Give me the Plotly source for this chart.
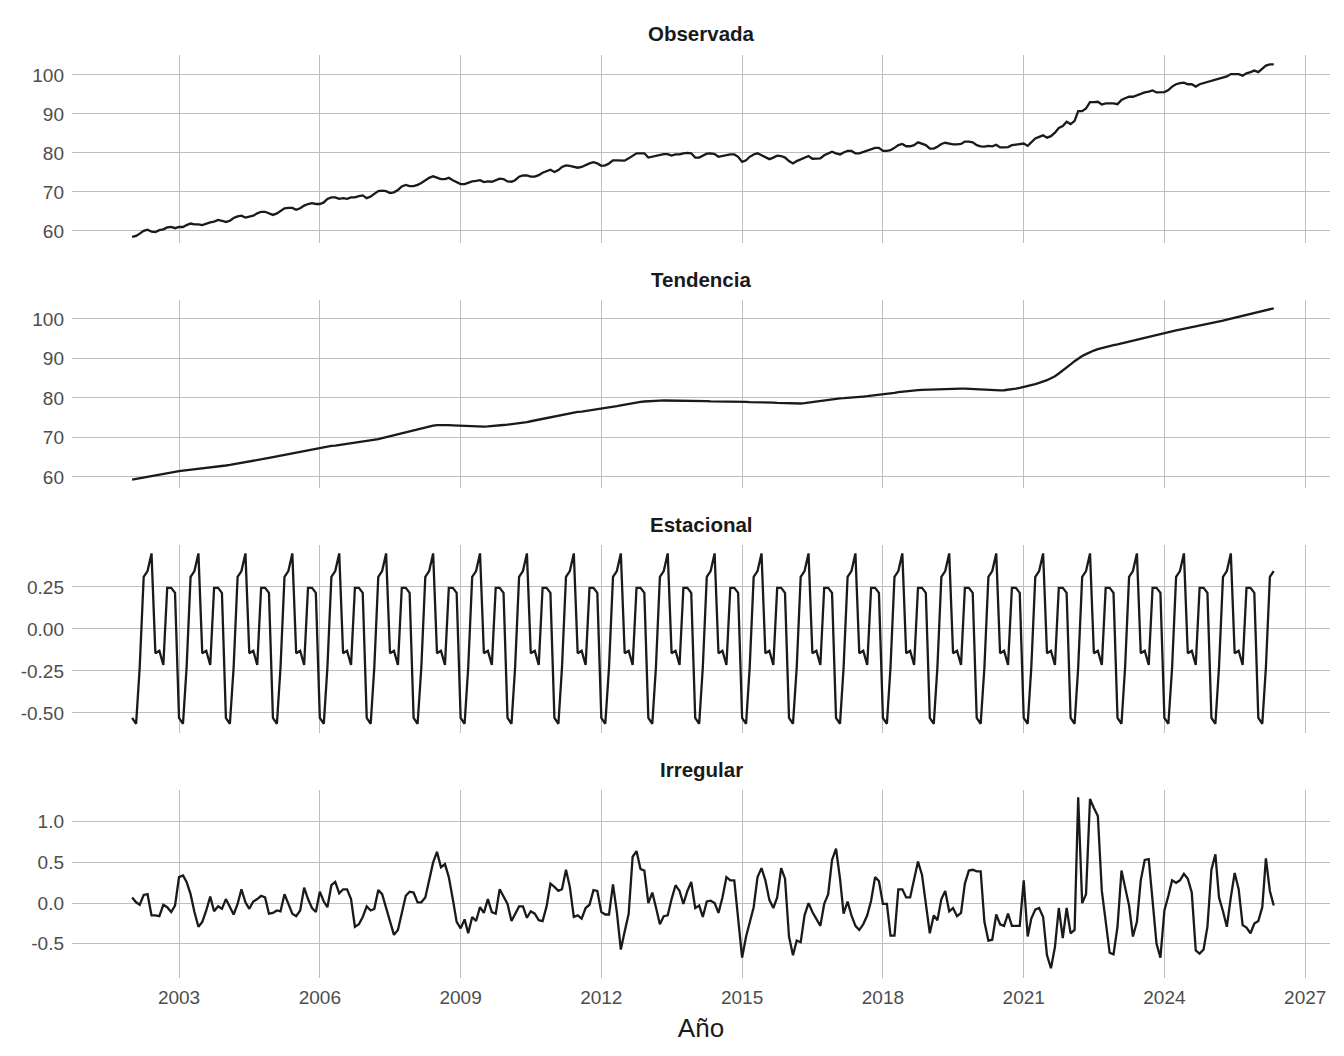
import pandas as pd
import plotly.graph_objects as go

# ---------------- data (monthly, 2002-01 .. 2026-05) ----------------
start_month = "2002-01-01"
n_months = 293

observada = [
    58.45, 58.7, 59.3, 60.0, 60.3, 59.8, 59.7, 60.2, 60.4, 60.9, 61.0, 60.7,
    61.0, 61.0, 61.5, 61.9, 61.7, 61.7, 61.5, 61.9, 62.2, 62.4, 62.8, 62.6,
    62.3, 62.6, 63.3, 63.7, 63.9, 63.4, 63.6, 63.9, 64.5, 64.9, 64.9, 64.5,
    64.1, 64.5, 65.2, 65.8, 65.9, 65.9, 65.4, 65.8, 66.5, 66.9, 67.1, 66.9,
    66.9, 67.3, 68.2, 68.6, 68.6, 68.2, 68.4, 68.2, 68.6, 68.6, 68.9, 69.1,
    68.4, 68.8, 69.5, 70.2, 70.3, 70.2, 69.7, 69.9, 70.5, 71.4, 71.8, 71.5,
    71.5, 71.8, 72.3, 73.0, 73.6, 74.0, 73.7, 73.3, 73.3, 73.6, 73.0, 72.4,
    72.0, 72.0, 72.3, 72.7, 72.8, 73.0, 72.5, 72.7, 72.6, 73.0, 73.4, 73.3,
    72.7, 72.6, 73.0, 73.9, 74.2, 74.2, 73.9, 73.9, 74.3, 74.9, 75.3, 75.7,
    75.1, 75.6, 76.4, 76.8, 76.7, 76.4, 76.2, 76.4, 76.9, 77.3, 77.6, 77.3,
    76.7, 76.8, 77.3, 78.1, 78.1, 78.0, 78.0, 78.6, 79.3, 79.9, 79.9, 79.9,
    78.8, 79.0, 79.2, 79.4, 79.7, 79.7, 79.3, 79.6, 79.6, 79.9, 80.0, 79.9,
    78.8, 78.8, 79.2, 79.8, 79.9, 79.7, 79.0, 79.2, 79.3, 79.6, 79.6, 79.0,
    77.7, 78.1, 79.0, 79.6, 79.9, 79.4, 78.8, 78.4, 78.8, 79.3, 79.2, 78.8,
    77.9, 77.3, 77.9, 78.3, 78.7, 79.2, 78.5, 78.6, 78.6, 79.4, 79.9, 80.3,
    79.9, 79.6, 80.1, 80.5, 80.5, 79.9, 79.9, 80.3, 80.5, 81.0, 81.3, 81.3,
    80.5, 80.5, 80.7, 81.3, 82.0, 82.3, 81.7, 81.7, 82.0, 82.7, 82.4, 82.0,
    81.1, 81.1, 81.6, 82.3, 82.6, 82.4, 82.2, 82.2, 82.3, 82.9, 82.9, 82.7,
    82.0, 81.7, 81.6, 81.8, 81.7, 82.1, 81.4, 81.4, 81.5, 82.0, 82.1, 82.2,
    82.4, 81.8, 82.8, 83.7, 84.1, 84.5, 83.9, 84.3, 85.2, 86.4, 86.9, 88.0,
    87.4, 88.2, 90.7, 90.7, 91.4, 93.0, 93.0, 93.1, 92.4, 92.7, 92.7, 92.7,
    92.5, 93.6, 94.0, 94.4, 94.4, 94.8, 95.1, 95.5, 95.7, 96.0, 95.5, 95.5,
    95.6, 96.1, 97.0, 97.6, 97.9, 98.0, 97.6, 97.6, 97.0, 97.6, 97.9, 98.3,
    98.5, 98.7, 99.0, 99.4, 99.6, 100.2, 100.2, 100.2, 99.8, 100.4, 100.7, 101.1,
    100.7, 101.5, 102.4, 102.7, 102.7,
]

tendencia = [
    59.3, 59.5, 59.7, 59.85, 60.05, 60.2, 60.4, 60.6, 60.8, 60.95, 61.15, 61.3,
    61.5, 61.6, 61.7, 61.8, 61.9, 62.0, 62.1, 62.2, 62.35, 62.45, 62.6, 62.7,
    62.9, 63.05, 63.2, 63.4, 63.6, 63.75, 63.95, 64.1, 64.3, 64.45, 64.65, 64.8,
    65.0, 65.2, 65.4, 65.6, 65.8, 66.0, 66.2, 66.4, 66.6, 66.8, 67.0, 67.2,
    67.4, 67.55, 67.7, 67.85, 67.95, 68.1, 68.2, 68.35, 68.5, 68.6, 68.75, 68.9,
    69.05, 69.2, 69.4, 69.6, 69.85, 70.1, 70.35, 70.6, 70.85, 71.1, 71.35, 71.6,
    71.85, 72.1, 72.4, 72.65, 72.85, 73.0, 73.1, 73.15, 73.15, 73.1, 73.05, 73.0,
    72.9, 72.85, 72.8, 72.75, 72.7, 72.7, 72.75, 72.8, 72.85, 72.95, 73.05, 73.15,
    73.25, 73.35, 73.45, 73.6, 73.75, 73.9, 74.1, 74.3, 74.5, 74.7, 74.9, 75.1,
    75.35, 75.55, 75.8, 76.0, 76.15, 76.3, 76.45, 76.55, 76.7, 76.8, 76.95, 77.05,
    77.2, 77.35, 77.55, 77.75, 77.95, 78.15, 78.35, 78.55, 78.7, 78.85, 79.0, 79.1,
    79.2, 79.25, 79.3, 79.3, 79.35, 79.35, 79.35, 79.35, 79.35, 79.35, 79.3, 79.3,
    79.3, 79.25, 79.2, 79.2, 79.15, 79.15, 79.1, 79.1, 79.05, 79.05, 79.0, 79.0,
    79.0, 79.0, 78.95, 78.95, 78.95, 78.9, 78.9, 78.85, 78.8, 78.75, 78.7, 78.65,
    78.6, 78.55, 78.55, 78.6, 78.7, 78.85, 79.0, 79.15, 79.3, 79.45, 79.6, 79.7,
    79.8, 79.9, 79.95, 80.0, 80.1, 80.15, 80.25, 80.35, 80.45, 80.55, 80.65, 80.75,
    80.85, 81.0, 81.15, 81.3, 81.45, 81.6, 81.7, 81.8, 81.9, 82.0, 82.05, 82.1,
    82.1, 82.15, 82.2, 82.2, 82.25, 82.3, 82.3, 82.35, 82.35, 82.35, 82.3, 82.25,
    82.2, 82.1, 82.0, 81.95, 81.9, 81.9, 81.9, 81.95, 82.05, 82.2, 82.35, 82.55,
    82.75, 83.0, 83.25, 83.5, 83.8, 84.1, 84.5, 85.0, 85.5, 86.2, 86.9, 87.7,
    88.5, 89.3, 90.0, 90.6, 91.1, 91.6, 92.0, 92.35, 92.65, 92.9, 93.15, 93.35,
    93.55, 93.8, 94.05, 94.3, 94.55, 94.8, 95.05, 95.3, 95.55, 95.8, 96.05, 96.3,
    96.5, 96.7, 96.9, 97.1, 97.3, 97.5, 97.7, 97.9, 98.1, 98.3, 98.5, 98.7,
    98.9, 99.15, 99.4, 99.6, 99.85, 100.1, 100.3, 100.55, 100.8, 101.05, 101.3, 101.5,
    101.75, 102.0, 102.25, 102.5, 102.7,
]

estacional = [
    -0.53, -0.565, -0.23, 0.31, 0.345, 0.45, -0.145, -0.13, -0.215, 0.245, 0.245, 0.215,
    -0.53, -0.565, -0.23, 0.31, 0.345, 0.45, -0.145, -0.13, -0.215, 0.245, 0.245, 0.215,
    -0.53, -0.565, -0.23, 0.31, 0.345, 0.45, -0.145, -0.13, -0.215, 0.245, 0.245, 0.215,
    -0.53, -0.565, -0.23, 0.31, 0.345, 0.45, -0.145, -0.13, -0.215, 0.245, 0.245, 0.215,
    -0.53, -0.565, -0.23, 0.31, 0.345, 0.45, -0.145, -0.13, -0.215, 0.245, 0.245, 0.215,
    -0.53, -0.565, -0.23, 0.31, 0.345, 0.45, -0.145, -0.13, -0.215, 0.245, 0.245, 0.215,
    -0.53, -0.565, -0.23, 0.31, 0.345, 0.45, -0.145, -0.13, -0.215, 0.245, 0.245, 0.215,
    -0.53, -0.565, -0.23, 0.31, 0.345, 0.45, -0.145, -0.13, -0.215, 0.245, 0.245, 0.215,
    -0.53, -0.565, -0.23, 0.31, 0.345, 0.45, -0.145, -0.13, -0.215, 0.245, 0.245, 0.215,
    -0.53, -0.565, -0.23, 0.31, 0.345, 0.45, -0.145, -0.13, -0.215, 0.245, 0.245, 0.215,
    -0.53, -0.565, -0.23, 0.31, 0.345, 0.45, -0.145, -0.13, -0.215, 0.245, 0.245, 0.215,
    -0.53, -0.565, -0.23, 0.31, 0.345, 0.45, -0.145, -0.13, -0.215, 0.245, 0.245, 0.215,
    -0.53, -0.565, -0.23, 0.31, 0.345, 0.45, -0.145, -0.13, -0.215, 0.245, 0.245, 0.215,
    -0.53, -0.565, -0.23, 0.31, 0.345, 0.45, -0.145, -0.13, -0.215, 0.245, 0.245, 0.215,
    -0.53, -0.565, -0.23, 0.31, 0.345, 0.45, -0.145, -0.13, -0.215, 0.245, 0.245, 0.215,
    -0.53, -0.565, -0.23, 0.31, 0.345, 0.45, -0.145, -0.13, -0.215, 0.245, 0.245, 0.215,
    -0.53, -0.565, -0.23, 0.31, 0.345, 0.45, -0.145, -0.13, -0.215, 0.245, 0.245, 0.215,
    -0.53, -0.565, -0.23, 0.31, 0.345, 0.45, -0.145, -0.13, -0.215, 0.245, 0.245, 0.215,
    -0.53, -0.565, -0.23, 0.31, 0.345, 0.45, -0.145, -0.13, -0.215, 0.245, 0.245, 0.215,
    -0.53, -0.565, -0.23, 0.31, 0.345, 0.45, -0.145, -0.13, -0.215, 0.245, 0.245, 0.215,
    -0.53, -0.565, -0.23, 0.31, 0.345, 0.45, -0.145, -0.13, -0.215, 0.245, 0.245, 0.215,
    -0.53, -0.565, -0.23, 0.31, 0.345, 0.45, -0.145, -0.13, -0.215, 0.245, 0.245, 0.215,
    -0.53, -0.565, -0.23, 0.31, 0.345, 0.45, -0.145, -0.13, -0.215, 0.245, 0.245, 0.215,
    -0.53, -0.565, -0.23, 0.31, 0.345, 0.45, -0.145, -0.13, -0.215, 0.245, 0.245, 0.215,
    -0.53, -0.565, -0.23, 0.31, 0.345,
]

irregular = [
    0.07, 0.01, -0.02, 0.10, 0.11, -0.15, -0.15, -0.16, -0.02, -0.05, -0.11, -0.03,
    0.32, 0.34, 0.26, 0.11, -0.11, -0.29, -0.23, -0.09, 0.08, -0.10, -0.04, -0.07,
    0.05, -0.05, -0.14, -0.01, 0.17, 0.01, -0.07, 0.02, 0.05, 0.09, 0.07, -0.13,
    -0.12, -0.09, -0.10, 0.11, 0.00, -0.13, -0.16, -0.09, 0.19, 0.05, -0.06, -0.11,
    0.14, 0.02, -0.05, 0.22, 0.26, 0.12, 0.17, 0.17, 0.05, -0.29, -0.26, -0.17,
    -0.04, -0.09, -0.07, 0.16, 0.11, -0.07, -0.23, -0.39, -0.33, -0.13, 0.09, 0.14,
    0.13, 0.01, 0.01, 0.07, 0.28, 0.50, 0.63, 0.44, 0.48, 0.32, 0.05, -0.23,
    -0.31, -0.20, -0.37, -0.17, -0.22, -0.05, -0.12, 0.05, -0.11, -0.13, 0.17, 0.09,
    -0.01, -0.22, -0.13, -0.04, -0.04, -0.18, -0.10, -0.13, -0.21, -0.22, -0.04, 0.24,
    0.20, 0.15, 0.17, 0.41, 0.20, -0.17, -0.15, -0.19, -0.06, -0.02, 0.16, 0.15,
    -0.11, -0.14, -0.14, 0.23, -0.11, -0.57, -0.35, -0.13, 0.57, 0.64, 0.42, 0.40,
    0.00, 0.13, -0.05, -0.26, -0.16, -0.15, 0.05, 0.22, 0.15, -0.01, 0.15, 0.26,
    -0.06, -0.03, -0.17, 0.02, 0.03, 0.00, -0.12, 0.07, 0.32, 0.28, 0.28, -0.17,
    -0.67, -0.41, -0.23, -0.05, 0.32, 0.43, 0.28, 0.04, -0.06, 0.07, 0.43, 0.30,
    -0.41, -0.64, -0.46, -0.48, -0.15, 0.00, -0.11, -0.19, -0.28, -0.01, 0.11, 0.53,
    0.67, 0.30, -0.13, 0.02, -0.15, -0.28, -0.33, -0.26, -0.15, 0.03, 0.32, 0.27,
    -0.01, -0.01, -0.40, -0.40, 0.17, 0.17, 0.07, 0.07, 0.28, 0.51, 0.35, -0.02,
    -0.37, -0.15, -0.21, 0.05, 0.15, -0.10, -0.06, -0.16, -0.12, 0.24, 0.40, 0.41,
    0.39, 0.39, -0.23, -0.46, -0.45, -0.14, -0.26, -0.28, -0.13, -0.28, -0.28, -0.28,
    0.28, -0.41, -0.19, -0.08, -0.06, -0.17, -0.64, -0.80, -0.54, -0.06, -0.43, -0.06,
    -0.37, -0.33, 1.30, 0.00, 0.11, 1.28, 1.17, 1.07, 0.15, -0.25, -0.61, -0.63,
    -0.29, 0.40, 0.20, -0.03, -0.41, -0.23, 0.28, 0.53, 0.54, 0.03, -0.50, -0.67,
    -0.09, 0.09, 0.28, 0.25, 0.28, 0.36, 0.30, 0.13, -0.58, -0.62, -0.57, -0.29,
    0.41, 0.60, 0.07, -0.10, -0.29, 0.07, 0.37, 0.17, -0.27, -0.30, -0.37, -0.25,
    -0.22, -0.05, 0.55, 0.15, -0.03,
]

panel_titles = ["Observada", "Tendencia", "Estacional", "Irregular"]
x_tick_years = ["2003", "2006", "2009", "2012", "2015", "2018", "2021", "2024", "2027"]
y_ticks = [
    ([60, 70, 80, 90, 100], ["60", "70", "80", "90", "100"]),
    ([60, 70, 80, 90, 100], ["60", "70", "80", "90", "100"]),
    ([-0.5, -0.25, 0.0, 0.25], ["-0.50", "-0.25", "0.00", "0.25"]),
    ([-0.5, 0.0, 0.5, 1.0], ["-0.5", "0.0", "0.5", "1.0"]),
]
x_title = "Año"

# ---------------- figure ----------------
fechas = pd.date_range(start_month, periods=n_months, freq="MS")
series = [observada, tendencia, estacional, irregular]

# page body has an 8px margin, so the figure sits at (8, 8)
W, H = 1336, 1048
ML, MR, MT, MB = 64, 14, 47, 78
plot_h = H - MT - MB
panel_px = 188
step_px = 245

y_ranges = [[56.9, 105.1], [57.2, 104.8], [-0.62, 0.50], [-0.92, 1.39]]
x_range = ["2000-09-20", "2027-07-13"]

grid_col = "#BEBEBE"
line_col = "#1A1A1A"
font_fam = "Liberation Sans, Arial, sans-serif"
tick_size = 19

fig = go.Figure()
layout = dict(
    width=W, height=H,
    margin=dict(l=ML, r=MR, t=MT, b=MB, autoexpand=False),
    paper_bgcolor="white", plot_bgcolor="white",
    showlegend=False,
    font=dict(family=font_fam, color="#4D4D4D"),
)
annotations = []
for k in range(4):
    top_px = MT + step_px * k
    bot_px = top_px + panel_px
    dom = [(H - MB - bot_px) / plot_h, (H - MB - top_px) / plot_h]
    xa = "x" if k == 0 else f"x{k+1}"
    ya = "y" if k == 0 else f"y{k+1}"
    fig.add_trace(go.Scatter(
        x=fechas, y=series[k], mode="lines",
        line=dict(color=line_col, width=2.3),
        xaxis=xa, yaxis=ya, hoverinfo="x+y",
    ))
    xkey = "xaxis" if k == 0 else f"xaxis{k+1}"
    ykey = "yaxis" if k == 0 else f"yaxis{k+1}"
    layout[xkey] = dict(
        domain=[0, 1], anchor=ya, range=x_range, type="date",
        tickvals=[f"{y}-01-01" for y in x_tick_years],
        ticktext=x_tick_years,
        showticklabels=(k == 3),
        showgrid=True, gridcolor=grid_col, gridwidth=1.3,
        zeroline=False, showline=False, ticks="",
        ticklabelstandoff=6,
        tickfont=dict(size=tick_size, color="#4D4D4D"),
    )
    if k != 0:
        layout[xkey]["matches"] = "x"
    layout[ykey] = dict(
        domain=dom, anchor=xa, range=y_ranges[k],
        tickvals=y_ticks[k][0], ticktext=y_ticks[k][1],
        showgrid=True, gridcolor=grid_col, gridwidth=1.3,
        zeroline=False, showline=False, ticks="",
        ticklabelstandoff=7,
        tickfont=dict(size=tick_size, color="#4D4D4D"),
    )
    title_px = top_px - 21
    annotations.append(dict(
        text=f"<b>{panel_titles[k]}</b>", xref="paper", yref="paper",
        x=0.5, y=(H - MB - title_px) / plot_h, xanchor="center", yanchor="middle",
        showarrow=False, font=dict(size=20.5, color="#1A1A1A", family=font_fam),
    ))

layout["xaxis4"]["title"] = dict(text=x_title, font=dict(size=26, color="#1A1A1A"), standoff=11)
layout["annotations"] = annotations
fig.update_layout(**layout)

fig.write_html("out.html")
